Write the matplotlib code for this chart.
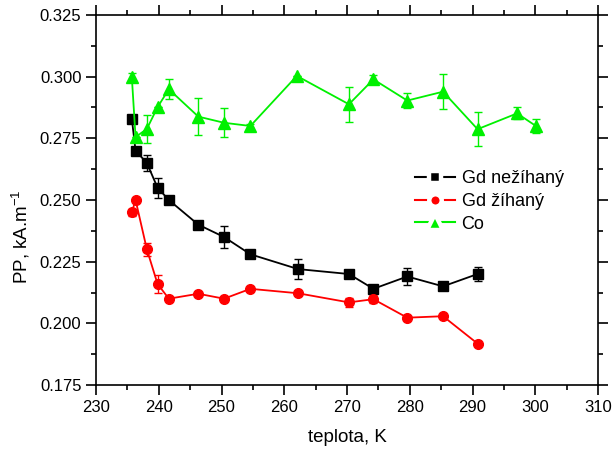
import numpy as np
import matplotlib
matplotlib.use("Agg")
import matplotlib.pyplot as plt
from matplotlib.lines import Line2D
from matplotlib.ticker import MultipleLocator

plt.rcParams['font.family'] = ['Liberation Sans', 'DejaVu Sans']
plt.rcParams['mathtext.fontset'] = 'custom'
plt.rcParams['mathtext.rm'] = 'Liberation Sans'
plt.rcParams['mathtext.it'] = 'Liberation Sans'

# Gd nezihany (black squares)
t_gd1 = [235.7, 236.3, 238.1, 239.8, 241.6, 246.3, 250.4, 254.6, 262.2, 270.3, 274.2, 279.6, 285.3, 290.8]
pp_gd1 = [0.283, 0.270, 0.265, 0.255, 0.250, 0.240, 0.235, 0.228, 0.222, 0.220, 0.214, 0.219, 0.215, 0.220]
err_gd1 = [0.0, 0.0, 0.0034, 0.004, 0.0, 0.0, 0.0043, 0.001, 0.0039, 0.0016, 0.0, 0.0036, 0.0, 0.0028]

# Gd zihany (red circles)
t_gd2 = [235.7, 236.3, 238.1, 239.8, 241.6, 246.3, 250.4, 254.6, 262.2, 270.3, 274.2, 279.6, 285.3, 290.8]
pp_gd2 = [0.245, 0.250, 0.230, 0.216, 0.210, 0.212, 0.210, 0.214, 0.2122, 0.2085, 0.2098, 0.2023, 0.2029, 0.1918]
err_gd2 = [0.0015, 0.0, 0.0025, 0.0035, 0.0, 0.0, 0.0, 0.0, 0.0, 0.0017, 0.0015, 0.0, 0.0, 0.0]

# Co (green triangles)
t_co = [235.7, 236.3, 238.1, 239.8, 241.6, 246.3, 250.4, 254.6, 262.0, 270.3, 274.2, 279.6, 285.3, 290.8, 297.1, 300.1]
pp_co = [0.300, 0.2755, 0.2788, 0.2876, 0.2949, 0.2838, 0.2813, 0.2800, 0.3003, 0.2888, 0.2989, 0.2903, 0.2939, 0.2787, 0.2851, 0.2800]
err_co = [0.0015, 0.0, 0.0058, 0.0, 0.004, 0.0074, 0.0059, 0.001, 0.0, 0.0072, 0.0018, 0.003, 0.007, 0.007, 0.0024, 0.003]

fig = plt.figure(figsize=(6.14, 4.53), dpi=100)
ax = fig.add_axes([0.1564, 0.150, 0.8176, 0.817])

series = [
    (t_gd1, pp_gd1, err_gd1, 'black', 's', 6.5, 8.5, 'Gd nežíhaný'),
    (t_gd2, pp_gd2, err_gd2, '#ff0000', 'o', 7, 9, 'Gd žíhaný'),
    (t_co, pp_co, err_co, '#00f000', '^', 8, 11, 'Co'),
]
handles = []
for x, y, e, c, m, ms, lms, lab in series:
    ax.errorbar(x, y, yerr=e, color=c, marker=m, markersize=ms, linewidth=1.3,
                elinewidth=1.0, capsize=3, capthick=1.0)
    # legend marker: thick white edge gives the gap in the line around it
    handles.append(Line2D([], [], color=c, linewidth=1.5, marker=m, markersize=lms,
                          markerfacecolor=c, markeredgecolor='white',
                          markeredgewidth=3.2, label=lab))

ax.set_xlim(230, 310)
ax.set_ylim(0.175, 0.325)
ax.xaxis.set_major_locator(MultipleLocator(10))
ax.xaxis.set_minor_locator(MultipleLocator(5))
ax.yaxis.set_major_locator(MultipleLocator(0.025))
ax.yaxis.set_minor_locator(MultipleLocator(0.0125))
ax.yaxis.set_major_formatter(plt.FormatStrFormatter('%.3f'))
ax.tick_params(which='both', direction='out', top=True, right=True, labelsize=12, width=1.2)
ax.tick_params(which='major', length=7)
ax.tick_params(which='minor', length=3.5)
for s in ax.spines.values():
    s.set_linewidth(1.2)

ax.set_xlabel('teplota, K', fontsize=13.5, labelpad=10)
ax.set_ylabel('PP, kA.m$^{-1}$', fontsize=13.5)
ax.yaxis.set_label_coords(-0.128, 0.40)

ax.legend(handles=handles, loc='upper left', bbox_to_anchor=(0.622, 0.60), frameon=False,
          fontsize=13, handlelength=2.2, handletextpad=0.35, labelspacing=0.32,
          borderaxespad=0)

fig.savefig('out.png', dpi=100)
